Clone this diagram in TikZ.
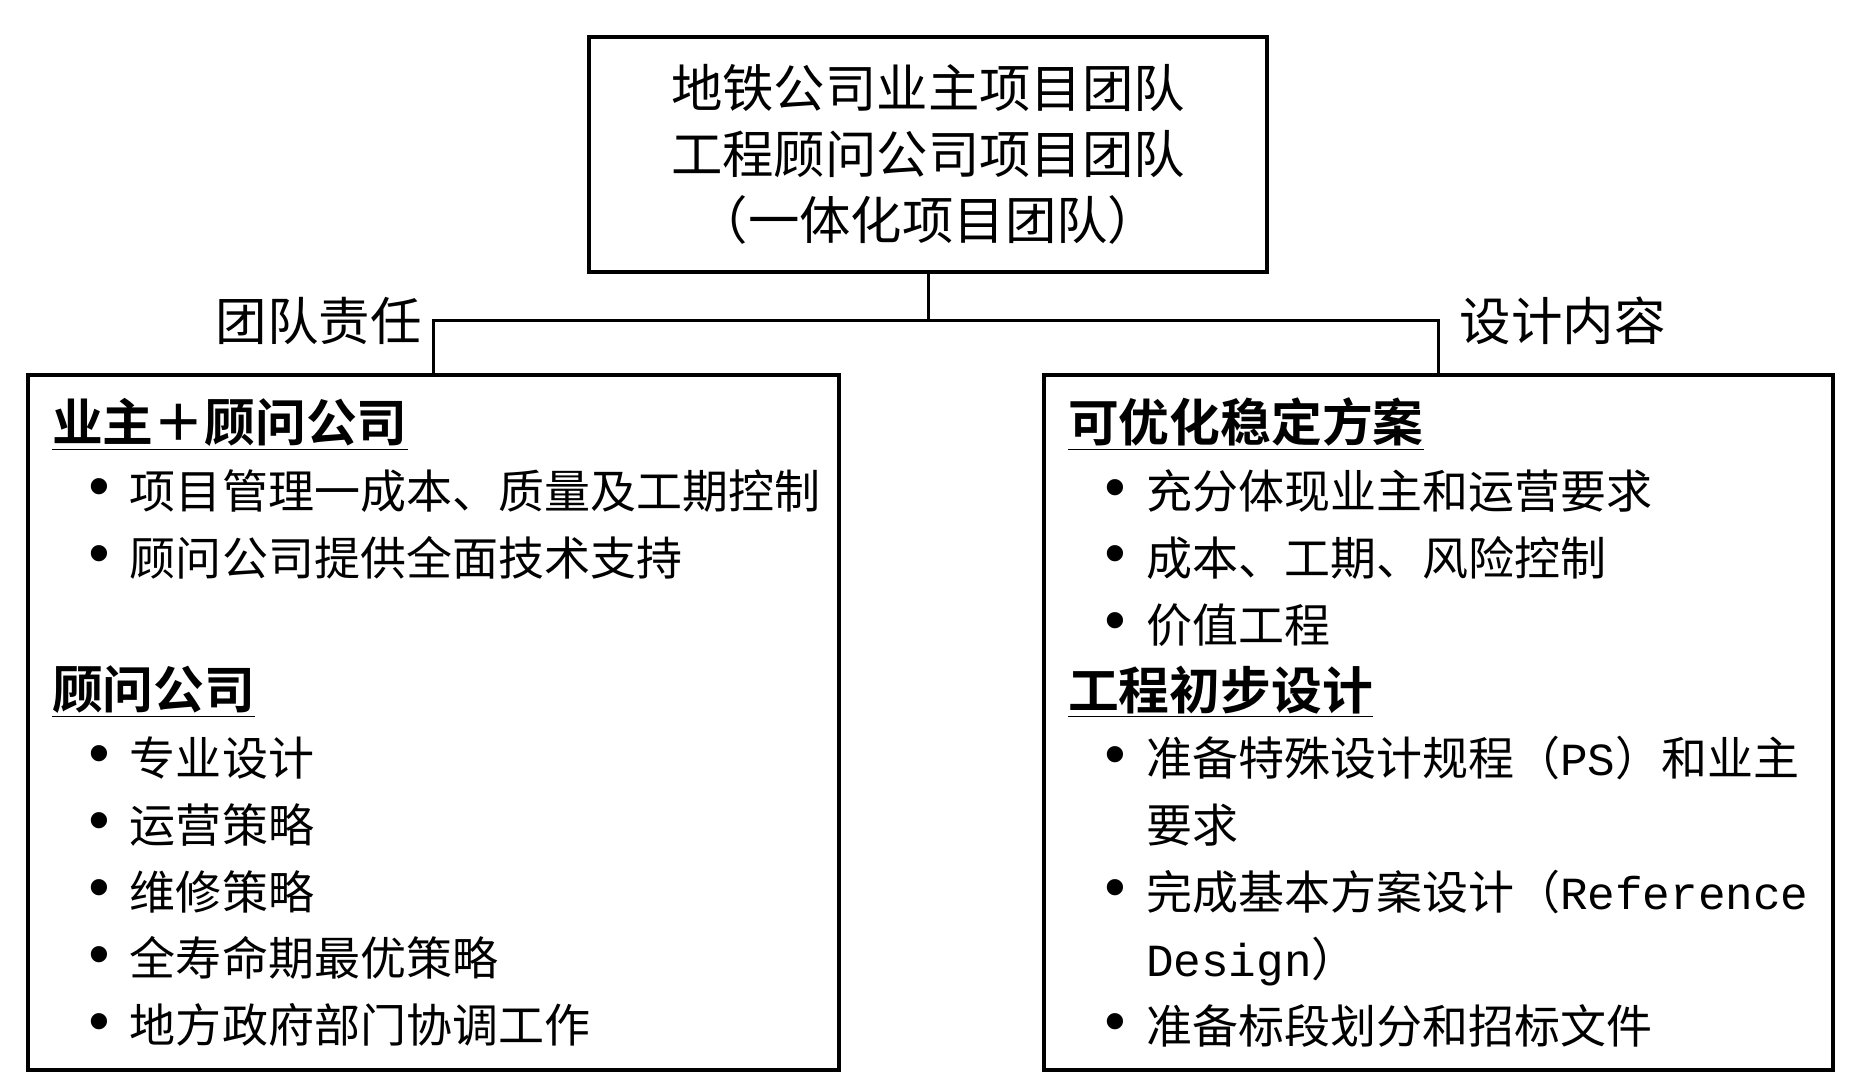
\documentclass[tikz,border=0pt]{standalone}
\usepackage{fontspec}
\setmainfont{Noto Sans CJK SC}[BoldFont={Noto Sans CJK SC Bold}]
\newfontfamily\latinfont{Liberation Mono}
\usepackage{tikz}
\usetikzlibrary{positioning}
\tikzstyle{box} = [draw, rectangle, line width=2pt, inner sep=0pt]
\tikzstyle{lbl} = [font=\fontsize{25.75pt}{30pt}\selectfont, inner sep=0pt]
\tikzstyle{link} = [line width=1.5pt]
\tikzstyle{body} = [font=\fontsize{23pt}{33.4pt}\selectfont, align=left, inner xsep=12pt]
\newcommand{\head}[1]{{\fontsize{25.4pt}{33.4pt}\selectfont\underline{\textbf{#1}}}}
\newcommand{\bul}{\hspace*{23.5pt}\makebox[0pt][c]{\raisebox{0.8pt}{\scalebox{1.3}{\latinfont •}}}\hspace*{15.5pt}}
\newcommand{\cont}{\hspace*{39pt}}

\begin{document}
\begin{tikzpicture}[x=0.5pt, y=-0.5pt]
    \useasboundingbox (0,0) rectangle (1857,1080);

    % Top box
    \node[box, minimum width=339pt, minimum height=117.5pt, align=center,
          font=\fontsize{25.7pt}{32.9pt}\selectfont] (top) at (928,154.5)
          {地铁公司业主项目团队\\工程顾问公司项目团队\\（一体化项目团队）};

    % Left box
    \node[box, body, anchor=north west, text width=381.5pt, minimum height=347.5pt] (lbox) at (26,373)
          {\head{业主＋顾问公司}\\
           \bul 项目管理一成本、质量及工期控制\\
           \bul 顾问公司提供全面技术支持\\[33.4pt]
           \head{顾问公司}\\
           \bul 专业设计\\
           \bul 运营策略\\
           \bul 维修策略\\
           \bul 全寿命期最优策略\\
           \bul 地方政府部门协调工作};

    % Right box
    \node[box, body, anchor=north west, text width=370.5pt, minimum height=347.5pt] (rbox) at (1042,373)
          {\head{可优化稳定方案}\\
           \bul 充分体现业主和运营要求\\
           \bul 成本、工期、风险控制\\
           \bul 价值工程\\
           \head{工程初步设计}\\
           \bul 准备特殊设计规程（{\latinfont PS}）和业主\\
           \cont 要求\\
           \bul 完成基本方案设计（{\latinfont Reference}\\
           \cont {\latinfont Design}）\\
           \bul 准备标段划分和招标文件};

    % Connectors
    \coordinate (split) at (928,321);
    \draw[link] (top.south) -- (split) -| (lbox.north);
    \draw[link] (split) -| (rbox.north);

    % Labels
    \coordinate (lknee) at (lbox.north |- split);
    \coordinate (rknee) at (rbox.north |- split);
    \node[lbl, left=5.75pt of lknee] (team) {团队责任};
    \node[lbl, right=10.5pt of rknee] (design) {设计内容};
\end{tikzpicture}
\end{document}
